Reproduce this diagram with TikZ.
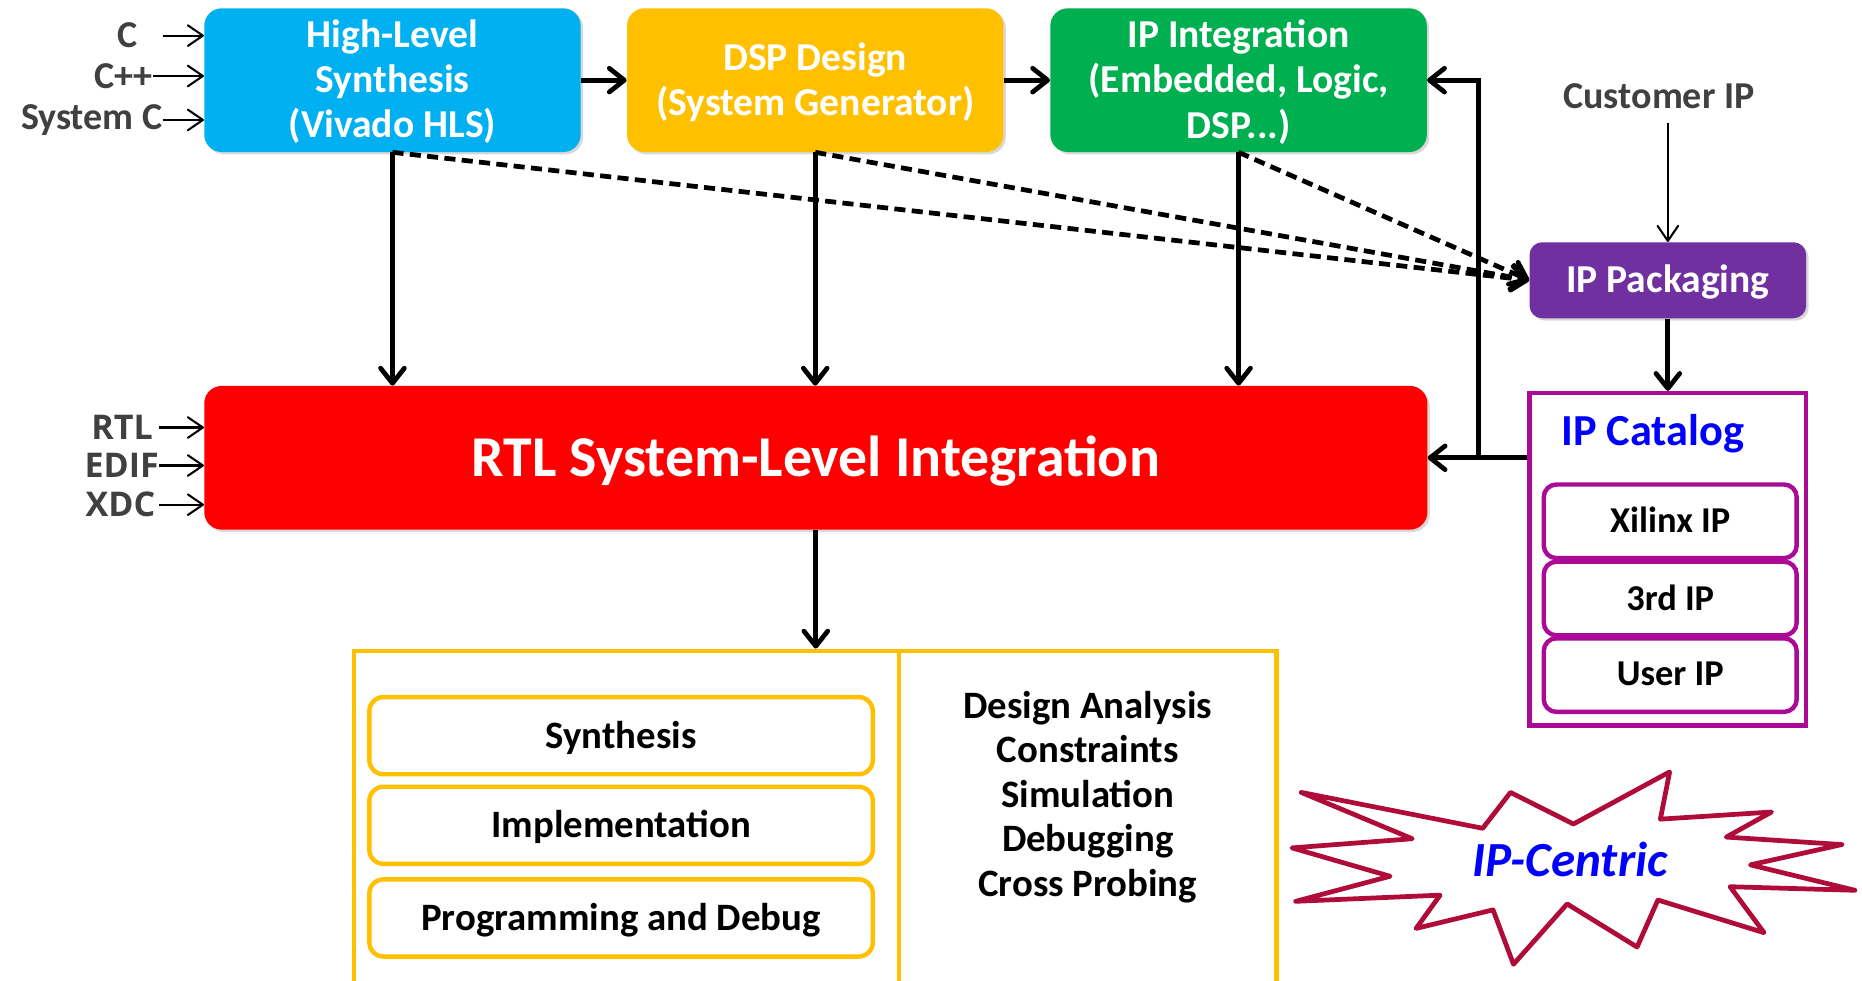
\documentclass[tikz,border=0pt]{standalone}
\usepackage{fontspec}
\setmainfont{Carlito}
\newfontfamily\srcfont{Open Sans}
\usetikzlibrary{arrows.meta,shadows}

\definecolor{hlsblue}{RGB}{0,176,240}
\definecolor{dspgold}{RGB}{255,192,0}
\definecolor{ipigreen}{RGB}{0,176,80}
\definecolor{packpurple}{RGB}{112,48,160}
\definecolor{catmagenta}{RGB}{170,10,150}
\definecolor{srcgray}{RGB}{64,64,64}
\definecolor{starred}{RGB}{176,12,58}

\begin{document}
\begin{tikzpicture}[x=0.75pt,y=0.75pt,yscale=-1,xscale=1,
  flowbox/.style={rounded corners=11pt,inner sep=0pt,align=center,text=white,text depth=1.5pt,
    font=\fontsize{25}{28.5}\selectfont\bfseries,
    drop shadow={shadow xshift=1.5pt,shadow yshift=-1.5pt,opacity=0.3}},
  topbox/.style={flowbox,minimum width=237.75pt,minimum height=90.75pt},
  catbox/.style={draw=catmagenta,line width=2.8pt,rounded corners=8pt,inner sep=0pt,text depth=1.5pt,
    minimum width=159.75pt,minimum height=46.5pt,font=\fontsize{23}{27}\selectfont\bfseries},
  toolbox/.style={draw=dspgold,line width=2.8pt,rounded corners=9pt,inner sep=0pt,text depth=1.5pt,
    minimum width=318pt,minimum height=48.75pt,font=\fontsize{24.5}{28}\selectfont\bfseries},
  srclabel/.style={inner sep=0pt,text=srcgray,font=\fontsize{24}{28}\selectfont\bfseries},
  hdllabel/.style={inner sep=0pt,text=srcgray,font=\srcfont\fontsize{21.5}{25}\selectfont\bfseries},
  arr/.style={line width=3pt,-{Straight Barb[round,length=9.5pt,width=15pt]}},
  dasharr/.style={arr,dash pattern={on 7pt off 4pt}},
  thinarr/.style={line width=1.3pt,-{Straight Barb[round,length=9.5pt,width=13pt]}}]

\useasboundingbox (0,0) rectangle (1568,826);
\fill[white] (0,0) rectangle (1568,826);

%Top flow boxes
\node[topbox,fill=hlsblue] (hls) at (330.5,67.5) {High-Level\\Synthesis\\(Vivado HLS)};
\node[topbox,fill=dspgold] (dsp) at (686.5,67.5) {DSP Design\\(System Generator)};
\node[topbox,fill=ipigreen] (ipi) at (1043,67.5) {IP Integration\\(Embedded, Logic,\\DSP...)};

%RTL integration
\node[flowbox,fill=red,minimum width=772.5pt,minimum height=90.75pt,
  font=\fontsize{36.5}{40}\selectfont\bfseries] (rtl) at (687,385.5) {RTL System-Level Integration};

%Sources
\node[srclabel] (c) at (107,30) {C};
\node[srclabel] (cpp) at (104,64) {C++};
\node[srclabel,anchor=east] (sysc) at (137,101) {System C};
\node[hdllabel,anchor=east] (rtlsrc) at (129,360) {RTL};
\node[hdllabel,anchor=east] (edif) at (134,392) {EDIF};
\node[hdllabel,anchor=east] (xdc) at (131,425) {XDC};

\draw[thinarr] (c.east -| sysc.east) -- (c.east -| hls.west);
\draw[thinarr] (cpp.east) -- (cpp.east -| hls.west);
\draw[thinarr] (sysc.east) -- (sysc.east -| hls.west);
\draw[thinarr] (rtlsrc.east -| edif.east) -- (rtlsrc.east -| rtl.west);
\draw[thinarr] (edif.east) -- (edif.east -| rtl.west);
\draw[thinarr] (xdc.east -| edif.east) -- (xdc.east -| rtl.west);

%IP side
\node[srclabel] (cust) at (1397,81) {Customer IP};
\node[flowbox,fill=packpurple,rounded corners=8pt,minimum width=174.75pt,minimum height=48pt,
  font=\fontsize{25}{28}\selectfont\bfseries] (pack) at (1404.5,236) {IP Packaging};
\node[draw=catmagenta,line width=2.8pt,inner sep=0pt,minimum width=174.75pt,
  minimum height=210pt] (catalog) at (1404.5,471) {};
\node[inner sep=0pt,text=blue,font=\fontsize{28}{32}\selectfont\bfseries] (catlabel) at (1392,365) {IP Catalog};
\node[catbox] (xil) at (1406.5,439) {Xilinx IP};
\node[catbox] (third) at (1406.5,504) {3rd IP};
\node[catbox] (user) at (1406.5,568.5) {User IP};

\coordinate (turn) at (1245,67.5);

%Flow arrows
\draw[arr] (hls) -- (dsp);
\draw[arr] (dsp) -- (ipi);
\draw[arr] (hls.south) -- (hls.south |- rtl.north);
\draw[arr] (dsp.south) -- (dsp.south |- rtl.north);
\draw[arr] (ipi.south) -- (ipi.south |- rtl.north);
\draw[dasharr] (hls.south) -- (pack.west);
\draw[dasharr] (dsp.south) -- (pack.west);
\draw[dasharr] (ipi.south) -- (pack.west);
\draw[thinarr,shorten <=9pt] (cust.south -| pack.north) -- (pack.north);
\draw[arr] (pack.south) -- (catalog.north);
\draw[arr] (rtl.east -| catalog.west) -- (rtl.east);
\draw[arr] (rtl.east -| turn) |- (ipi.east);

%Implementation tools
\node[draw=dspgold,line width=2.8pt,inner sep=0pt,minimum width=582.75pt,
  minimum height=226.5pt] (tools) at (686.5,699) {};
\draw[draw=dspgold,line width=2.8pt] (757,548) -- (757,850);
\draw[arr] (rtl.south) -- (rtl.south |- tools.north);
\node[toolbox] (syn) at (523,619.5) {Synthesis};
\node[toolbox] (impl) at (523,695) {Implementation};
\node[toolbox] (prog) at (523,773) {Programming and Debug};
\node[inner sep=0pt,align=center,font=\fontsize{24.5}{28.1}\selectfont\bfseries] (tasks) at (916,671)
  {Design Analysis\\Constraints\\Simulation\\Debugging\\Cross Probing};

%Burst
\draw[starred,line width=3pt,line join=round,fill=white]
  (1095.8,667.3) -- (1248.6,697.5) -- (1272,667.3) -- (1325,693.9) -- (1406,650)
  -- (1398.2,689.8) -- (1491.8,683.8) -- (1453.7,704.9) -- (1551,711.2) -- (1474,728.3)
  -- (1562,749.7) -- (1456.9,746.7) -- (1485.5,785.4) -- (1396.1,757.9) -- (1378.6,797.5)
  -- (1319.7,761.2) -- (1274.5,812) -- (1257.3,766.2) -- (1192.5,781.8) -- (1212.7,753.8)
  -- (1091.1,759) -- (1170.6,737.9) -- (1088,714) -- (1189.3,706.3) -- cycle;
\node[inner sep=0pt,text=blue,font=\fontsize{31}{34}\selectfont\bfseries\itshape] (ipc) at (1322,724) {IP-Centric};

\end{tikzpicture}
\end{document}
